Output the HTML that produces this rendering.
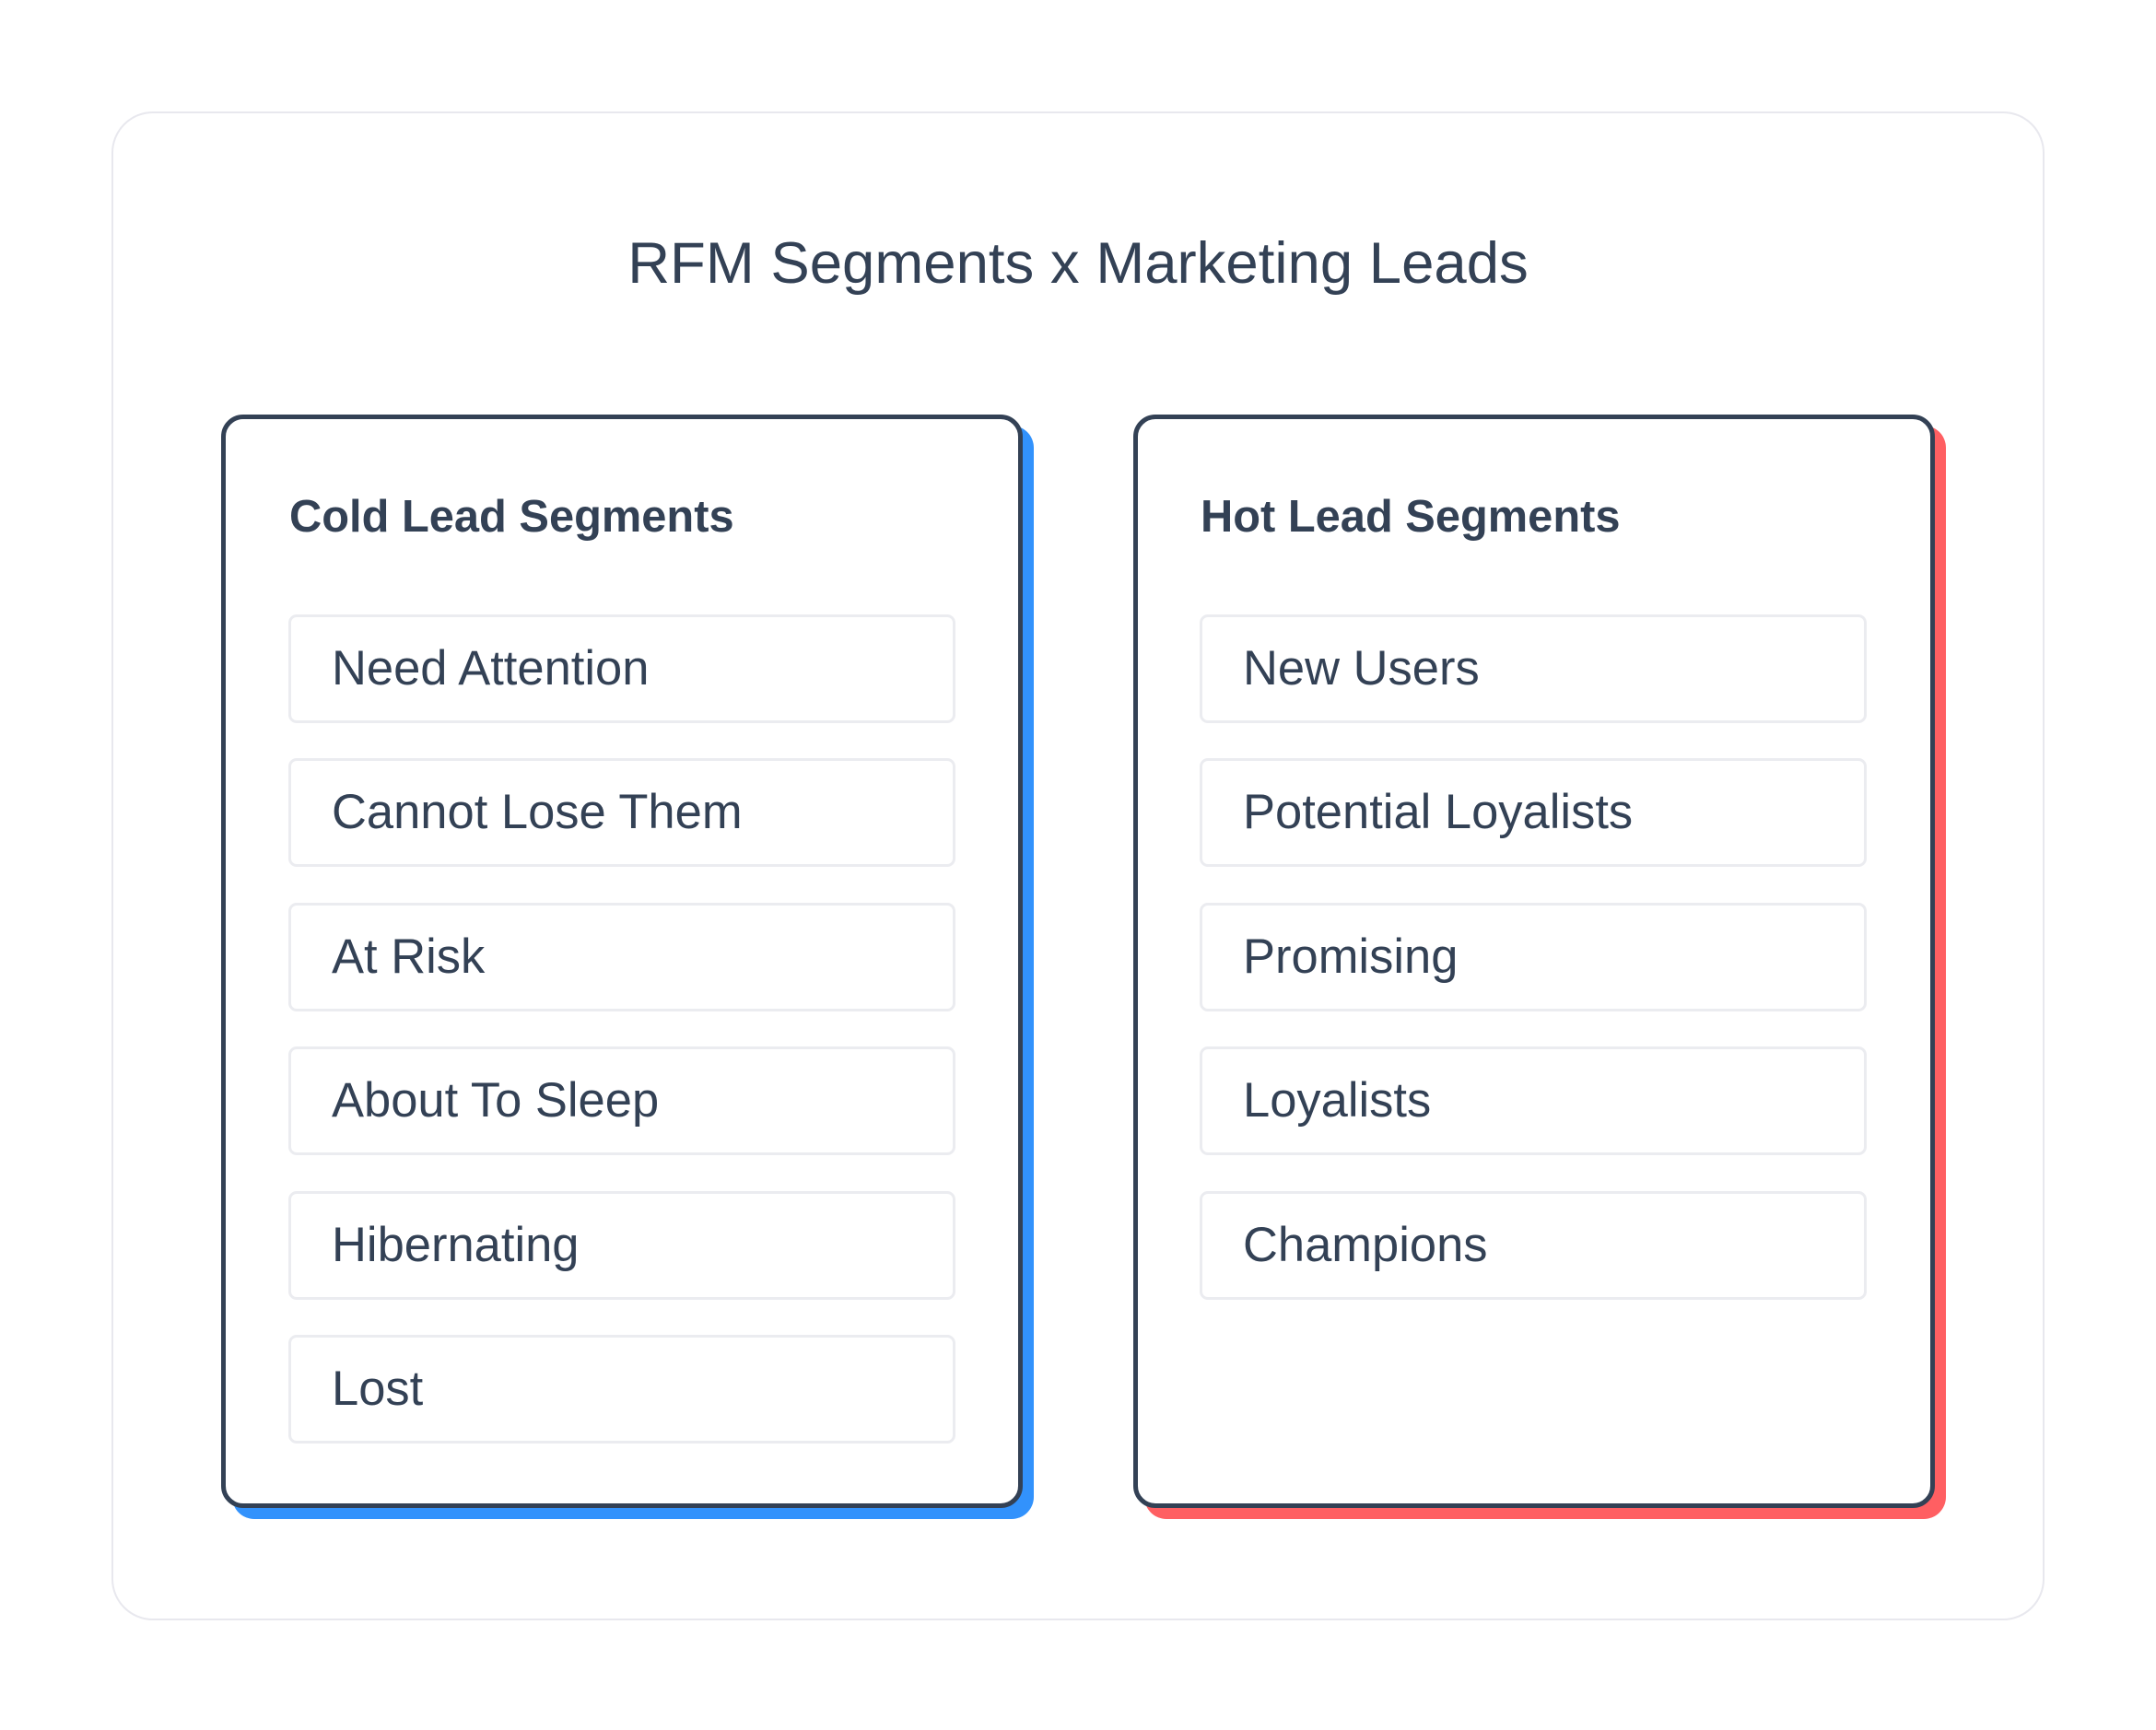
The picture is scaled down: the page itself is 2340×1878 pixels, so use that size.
<!DOCTYPE html>
<html><head><style>
body{margin:0;width:2340px;height:1878px;background:#fff;position:relative;font-family:"Liberation Sans",sans-serif;color:#334155;overflow:hidden}
.card{position:absolute;left:121px;top:121px;width:2098px;height:1638px;border:2px solid #e8e8ee;border-radius:45px;box-sizing:border-box}
.title{position:absolute;left:0;width:2340px;top:250px;text-align:center;font-size:63.5px;line-height:72px;color:#334155}
.shadow{position:absolute;width:870px;height:1187px;border-radius:24px}
.panel{position:absolute;width:870px;height:1187px;border:5px solid #334155;border-radius:24px;box-sizing:border-box;background:#fff}
.h{position:absolute;font-weight:bold;font-size:48.8px;line-height:56px;color:#334155}
.item{position:absolute;width:724px;height:118px;border:3px solid #ebecf0;border-radius:9px;box-sizing:border-box;font-size:52.5px;line-height:112px;padding-left:44px;color:#334155}
</style></head><body>
<div class="card"></div>
<div class="title">RFM Segments x Marketing Leads</div>

<div class="shadow" style="left:252px;top:462px;background:#3292fc"></div>
<div class="panel" style="left:240px;top:450px"></div>
<div class="h" style="left:314px;top:533px">Cold Lead Segments</div>
<div class="item" style="left:313px;top:667px">Need Attention</div>
<div class="item" style="left:313px;top:823px">Cannot Lose Them</div>
<div class="item" style="left:313px;top:980px">At Risk</div>
<div class="item" style="left:313px;top:1136px">About To Sleep</div>
<div class="item" style="left:313px;top:1293px">Hibernating</div>
<div class="item" style="left:313px;top:1449px">Lost</div>

<div class="shadow" style="left:1242px;top:462px;background:#ff5f62"></div>
<div class="panel" style="left:1230px;top:450px"></div>
<div class="h" style="left:1303px;top:533px">Hot Lead Segments</div>
<div class="item" style="left:1302px;top:667px">New Users</div>
<div class="item" style="left:1302px;top:823px">Potential Loyalists</div>
<div class="item" style="left:1302px;top:980px">Promising</div>
<div class="item" style="left:1302px;top:1136px">Loyalists</div>
<div class="item" style="left:1302px;top:1293px">Champions</div>
</body></html>
